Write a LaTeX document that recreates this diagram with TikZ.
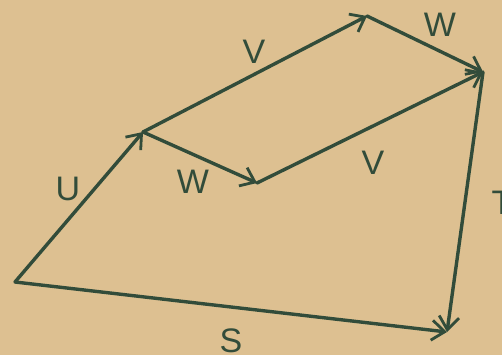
\documentclass[tikz,border=0pt]{standalone}
\usepackage{fontspec}
\setsansfont{Liberation Sans}
\usetikzlibrary{arrows.meta}
\definecolor{paper}{RGB}{221,192,145}
\definecolor{ink}{RGB}{50,76,58}

\begin{document}
\begin{tikzpicture}[x=1pt,y=-1pt,
    vec/.style={draw=ink, line width=3.4pt, line cap=round,
      -{Straight Barb[length=13pt,width=20pt,line width=2.8pt]}},
    lbl/.style={text=ink, font=\sffamily\fontsize{34}{34}\selectfont}]
  \fill[paper] (0,0) rectangle (502,355);
  \useasboundingbox (0,0) rectangle (502,355);
  % corners of the vector polygon
  \coordinate (O) at (15,282);
  \coordinate (A) at (143,132);
  \coordinate (B) at (367,16);
  \coordinate (C) at (483,72);
  \coordinate (D) at (257,183);
  \coordinate (E) at (447,332);
  \draw[vec] (O) -- (A);
  \draw[vec] (A) -- (B);
  \draw[vec] (B) -- (C);
  \draw[vec] (A) -- (D);
  \draw[vec] (D) -- (C);
  \draw[vec] (C) -- (E);
  \draw[vec] (O) -- (E);
  % labels
  \foreach \n/\x/\y/\t in {u/68/189/U,vtop/254/52/V,wtop/440/25/W,wlow/193/182/W,vlow/373/163/V,t/502/203/T,s/231/341/S}{
    \node[lbl] (\n) at (\x,\y) {\t};
  }
\end{tikzpicture}
\end{document}
